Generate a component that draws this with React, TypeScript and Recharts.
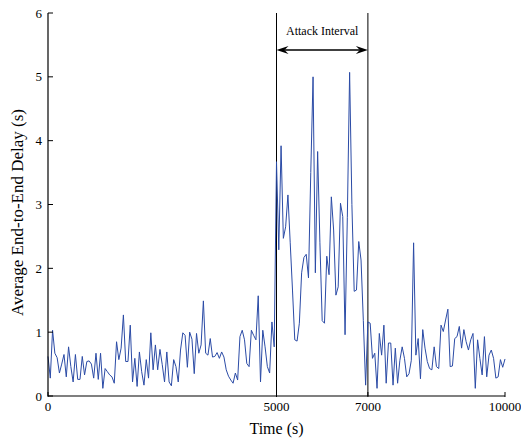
import React from 'react';
import { LineChart, Line, XAxis, YAxis, ReferenceLine, Label } from 'recharts';

// sampling step of the time axis (s)
const SAMPLE_STEP = 50;

// average end-to-end delay (s), 0 .. 4950
const delayBefore = [
  0.62, 0.28, 1.03, 0.67, 0.6, 0.36, 0.5, 0.65, 0.3, 0.77,
  0.46, 0.22, 0.65, 0.26, 0.26, 0.62, 0.33, 0.54, 0.55, 0.5,
  0.28, 0.67, 0.26, 0.67, 0.12, 0.43, 0.38, 0.33, 0.3, 0.2,
  0.85, 0.57, 0.75, 1.27, 0.54, 0.54, 1.11, 0.22, 0.59, 0.15,
  0.69, 0.38, 0.17, 0.57, 0.28, 0.99, 0.41, 0.8, 0.41, 0.73,
  0.49, 0.22, 0.69, 0.22, 0.16, 0.57, 0.46, 0.22, 0.72, 0.99,
  0.95, 0.45, 1.0, 0.89, 0.35, 0.98, 0.67, 0.8, 1.49, 0.67,
  0.64, 0.9, 0.61, 0.62, 0.68, 0.59, 0.69, 0.61, 0.41, 0.31,
  0.25, 0.2, 0.36, 0.25, 0.93, 1.03, 0.88, 0.51, 0.46, 1.03,
  0.95, 0.88, 1.57, 0.22, 1.03, 0.77, 0.46, 0.36, 1.16, 0.77,
];

// 5000 .. 6950 (attack interval)
const delayAttack = [
  3.67, 2.29, 3.92, 2.47, 2.65, 3.15, 2.4, 1.66, 0.88, 0.86,
  1.14, 1.93, 2.17, 2.22, 1.85, 3.5, 5.0, 1.93, 3.83, 2.4,
  1.18, 1.14, 2.19, 1.9, 3.12, 2.6, 1.58, 1.71, 3.02, 2.81,
  0.96, 2.8, 5.07, 3.0, 1.64, 1.66, 2.42, 2.13, 1.18, 0.17,
];

// 7000 .. 10000
const delayAfter = [
  1.16, 1.14, 0.59, 0.67, 0.12, 0.98, 0.64, 1.11, 0.2, 0.83,
  0.83, 0.17, 0.75, 0.2, 0.56, 0.77, 0.59, 0.3, 0.35, 0.56,
  2.4, 0.64, 0.9, 0.27, 1.04, 0.75, 0.54, 0.43, 0.41, 0.77,
  0.46, 0.43, 1.11, 1.01, 1.19, 1.36, 0.46, 0.47, 0.9, 0.93,
  1.09, 0.75, 1.04, 0.85, 0.72, 0.88, 0.98, 0.12, 0.88, 0.59,
  0.33, 0.93, 0.3, 0.64, 0.72, 0.59, 0.28, 0.3, 0.57, 0.45,
  0.58,
];

const xTicks = [0, 5000, 7000, 10000];
const yTicks = [0, 1, 2, 3, 4, 5, 6];
const attackStart = 5000;
const attackEnd = 7000;
const annotationLevel = 5.42;
const annotationText = 'Attack Interval';
const xLabel = 'Time (s)';
const yLabel = 'Average End-to-End Delay (s)';

const delays = [...delayBefore, ...delayAttack, ...delayAfter];
const data = delays.map((d, i) => ({ t: i * SAMPLE_STEP, delay: d }));

const FONT = '"Liberation Serif", "Times New Roman", serif';
const TICK_LEN = 5;

const LeftTick = (p: any) => {
  const { x, y, payload } = p;
  const ax = x + 7;
  return (
    <g>
      <text x={x + 1} y={y} textAnchor="end" dominantBaseline="central" fontFamily={FONT} fontSize={13} fill="#000">
        {payload.value}
      </text>
      <line x1={ax} y1={y} x2={ax + TICK_LEN} y2={y} stroke="#000" strokeWidth={1} />
    </g>
  );
};

const RightTick = (p: any) => {
  const { x, y } = p;
  return <line x1={x - TICK_LEN} y1={y} x2={x} y2={y} stroke="#000" strokeWidth={1} />;
};

const BottomTick = (p: any) => {
  const { x, y, payload } = p;
  const ay = y - 3;
  return (
    <g>
      <text x={x} y={y + 11} textAnchor="middle" fontFamily={FONT} fontSize={13} fill="#000">
        {payload.value}
      </text>
      <line x1={x} y1={ay} x2={x} y2={ay - TICK_LEN} stroke="#000" strokeWidth={1} />
    </g>
  );
};

const TopTick = (p: any) => {
  const { x, y } = p;
  return <line x1={x} y1={y} x2={x} y2={y + TICK_LEN} stroke="#000" strokeWidth={1} />;
};

const ArrowShape = (p: any) => {
  const { x1, y1, x2 } = p;
  const y = y1;
  const hl = 12;
  const hw = 4;
  const notch = 8;
  return (
    <g>
      <line x1={x1 + notch} y1={y} x2={x2 - notch} y2={y} stroke="#000" strokeWidth={1.5} />
      <polygon
        points={`${x1},${y} ${x1 + hl},${y - hw} ${x1 + notch},${y} ${x1 + hl},${y + hw}`}
        fill="#000"
      />
      <polygon
        points={`${x2},${y} ${x2 - hl},${y - hw} ${x2 - notch},${y} ${x2 - hl},${y + hw}`}
        fill="#000"
      />
      <text x={(x1 + x2) / 2} y={y - 15} textAnchor="middle" fontFamily={FONT} fontSize={12} fill="#000">
        {annotationText}
      </text>
    </g>
  );
};

const YLabelContent = (p: any) => {
  const vb = p.viewBox || {};
  const cy = (vb.y ?? 13) + (vb.height ?? 383) / 2 + 8;
  const cx = 17;
  return (
    <text
      x={cx}
      y={cy}
      transform={`rotate(-90, ${cx}, ${cy})`}
      textAnchor="middle"
      dominantBaseline="central"
      fontFamily={FONT}
      fontSize={17}
      fill="#000"
    >
      {yLabel}
    </text>
  );
};

export default function App() {
  return (
    <div style={{ position: 'absolute', left: 0, top: 0, width: 521, height: 440, background: '#fff' }}>
      <LineChart
        width={521}
        height={440}
        data={data}
        margin={{ top: 13, right: 16, left: 0, bottom: 0 }}
      >
        <XAxis
          dataKey="t"
          type="number"
          domain={[0, 10000]}
          ticks={xTicks}
          interval={0}
          height={44}
          tickSize={0}
          tickMargin={4}
          tickLine={false}
          axisLine={{ stroke: '#000', strokeWidth: 1.2 }}
          tick={<BottomTick />}
          label={{
            value: xLabel,
            position: 'insideBottom',
            offset: 6,
            style: { fontFamily: FONT, fontSize: 16, fill: '#000' },
          }}
        />
        <XAxis
          xAxisId="top"
          orientation="top"
          dataKey="t"
          type="number"
          domain={[0, 10000]}
          ticks={xTicks}
          interval={0}
          height={0}
          tickSize={0}
          tickMargin={0}
          tickLine={false}
          axisLine={{ stroke: '#000', strokeWidth: 1 }}
          tick={<TopTick />}
        />
        <YAxis
          type="number"
          domain={[0, 6]}
          ticks={yTicks}
          interval={0}
          width={48}
          tickSize={0}
          tickMargin={7}
          tickLine={false}
          axisLine={{ stroke: '#000', strokeWidth: 1.2 }}
          tick={<LeftTick />}
        >
          <Label content={<YLabelContent />} />
        </YAxis>
        <YAxis
          yAxisId="right"
          orientation="right"
          type="number"
          domain={[0, 6]}
          ticks={yTicks}
          interval={0}
          width={0}
          tickSize={0}
          tickMargin={0}
          tickLine={false}
          axisLine={{ stroke: '#000', strokeWidth: 1 }}
          tick={<RightTick />}
        />
        <ReferenceLine x={attackStart} stroke="#000" strokeWidth={1} />
        <ReferenceLine x={attackEnd} stroke="#000" strokeWidth={1} />
        <ReferenceLine
          segment={[
            { x: attackStart, y: annotationLevel },
            { x: attackEnd, y: annotationLevel },
          ]}
          shape={ArrowShape}
        />
        <Line
          type="linear"
          dataKey="delay"
          stroke="#2b4ba6"
          strokeWidth={1}
          dot={false}
          activeDot={false}
          isAnimationActive={false}
        />
      </LineChart>
    </div>
  );
}
